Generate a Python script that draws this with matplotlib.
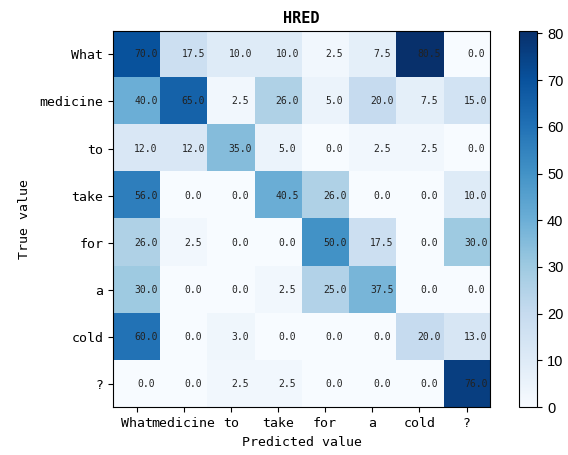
import numpy as np
import matplotlib
matplotlib.use('Agg')
import matplotlib.pyplot as plt

# word labels for both axes
words = ['What', 'medicine', 'to', 'take', 'for', 'a', 'cold', '?']

# attention scores, one row per true word
row_what = [70.0, 17.5, 10.0, 10.0, 2.5, 7.5, 80.5, 0.0]
row_medicine = [40.0, 65.0, 2.5, 26.0, 5.0, 20.0, 7.5, 15.0]
row_to = [12.0, 12.0, 35.0, 5.0, 0.0, 2.5, 2.5, 0.0]
row_take = [56.0, 0.0, 0.0, 40.5, 26.0, 0.0, 0.0, 10.0]
row_for = [26.0, 2.5, 0.0, 0.0, 50.0, 17.5, 0.0, 30.0]
row_a = [30.0, 0.0, 0.0, 2.5, 25.0, 37.5, 0.0, 0.0]
row_cold = [60.0, 0.0, 3.0, 0.0, 0.0, 0.0, 20.0, 13.0]
row_q = [0.0, 0.0, 2.5, 2.5, 0.0, 0.0, 0.0, 76.0]

cm = np.array([row_what, row_medicine, row_to, row_take,
               row_for, row_a, row_cold, row_q])

mono = ['DejaVu Sans Mono']

fig = plt.figure(figsize=(5.68, 4.55), dpi=100)
ax = fig.add_axes([0.199, 0.105, 0.664, 0.827])
cax = fig.add_axes([0.914, 0.105, 0.032, 0.827])

im = ax.imshow(cm, cmap='Blues', vmin=0, vmax=cm.max(), aspect='auto')
cb = fig.colorbar(im, cax=cax, ticks=np.arange(0, 81, 10))
cb.ax.tick_params(labelsize=10.5)
for t in cb.ax.get_yticklabels():
    t.set_family('Liberation Sans')

for i in range(cm.shape[0]):
    for j in range(cm.shape[1]):
        ax.text(j + 0.2, i, '%.1f' % cm[i, j], ha='center', va='center',
                fontsize=7, family=mono, color='#222222')

ax.set_xticks(range(len(words)))
ax.set_yticks(range(len(words)))
ax.set_xticklabels(words, family=mono, fontsize=9.5)
ax.set_yticklabels(words, family=mono, fontsize=9.5)
ax.set_title('HRED', family=mono, fontsize=11, fontweight='bold')
ax.set_xlabel('Predicted value', family=mono, fontsize=9.5)
ax.set_ylabel('True value', family=mono, fontsize=9.5, labelpad=6)

plt.savefig('out.png', dpi=100)
